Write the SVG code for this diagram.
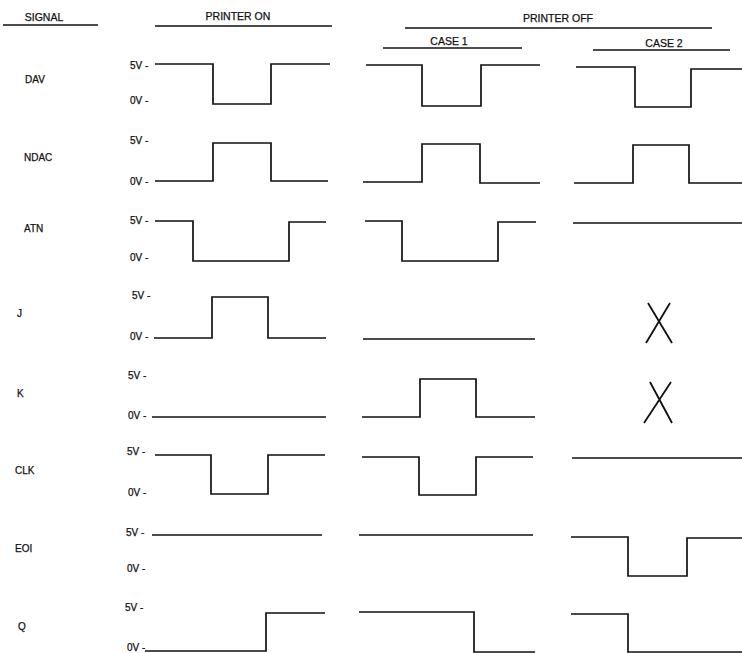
<svg xmlns="http://www.w3.org/2000/svg" width="742" height="653" viewBox="0 0 742 653">
<style>
text{font-family:"Liberation Sans",Arial,sans-serif;font-size:10px;fill:#111;stroke:#111;stroke-width:0.25}
.h{font-size:10.5px}
.w{fill:none;stroke:#111;stroke-width:1.7;stroke-linejoin:miter;stroke-linecap:butt}
.u{stroke:#111;stroke-width:1.5}
.x{fill:none;stroke:#111;stroke-width:1.8}
</style>
<rect width="742" height="653" fill="#fff"/>
<g id="header">
<text class="h" x="44" y="21" text-anchor="middle">SIGNAL</text>
<line class="u" x1="3" y1="25" x2="98" y2="25"/>
<text class="h" x="238" y="20" text-anchor="middle">PRINTER ON</text>
<line class="u" x1="155" y1="26" x2="332" y2="26"/>
<text class="h" x="558" y="22" text-anchor="middle">PRINTER OFF</text>
<line class="u" x1="405" y1="28" x2="712" y2="28"/>
<text class="h" x="449" y="45" text-anchor="middle">CASE 1</text>
<line class="u" x1="383" y1="48" x2="522" y2="48"/>
<text class="h" x="664" y="47" text-anchor="middle">CASE 2</text>
<line class="u" x1="593" y1="50" x2="730" y2="50"/>
</g>
<g id="row-DAV">
<text x="25" y="83">DAV</text>
<text x="130" y="69">5V -</text>
<text x="130" y="104">0V -</text>
<path class="w" d="M155 64H213V104H271V64H330"/>
<path class="w" d="M366 65H422V106H481V65H540"/>
<path class="w" d="M576 67H635V107H691V69H742"/>
</g>
<g id="row-NDAC">
<text x="24" y="161">NDAC</text>
<text x="130" y="144">5V -</text>
<text x="130" y="185">0V -</text>
<path class="w" d="M155 181H213V143H271V181H328"/>
<path class="w" d="M363 182H422V144H480V183H540"/>
<path class="w" d="M574 183H633V145H689V183H742"/>
</g>
<g id="row-ATN">
<text x="24" y="232">ATN</text>
<text x="130" y="224">5V -</text>
<text x="130" y="261">0V -</text>
<path class="w" d="M155 221H193V261H289V222H326"/>
<path class="w" d="M365 221H402V261H498V222H536"/>
<path class="w" d="M573 223H742"/>
</g>
<g id="row-J">
<text x="17" y="317">J</text>
<text x="132" y="299">5V -</text>
<text x="130" y="340">0V -</text>
<path class="w" d="M154 338H212V297H268V338H326"/>
<path class="w" d="M363 339H535"/>
<path class="x" d="M648 303L672 343M670 303L646 343"/>
</g>
<g id="row-K">
<text x="17" y="397">K</text>
<text x="128" y="379">5V -</text>
<text x="128" y="419">0V -</text>
<path class="w" d="M152 417H326"/>
<path class="w" d="M362 417H420V379H476V417H535"/>
<path class="x" d="M650 382L672 423M671 382L644 423"/>
</g>
<g id="row-CLK">
<text x="15" y="474">CLK</text>
<text x="127" y="455">5V -</text>
<text x="128" y="496">0V -</text>
<path class="w" d="M155 455H211V494H268V455H325"/>
<path class="w" d="M362 457H419V495H476V457H533"/>
<path class="w" d="M572 458H742"/>
</g>
<g id="row-EOI">
<text x="15" y="552">EOI</text>
<text x="126" y="536">5V -</text>
<text x="127" y="572">0V -</text>
<path class="w" d="M152 535H322"/>
<path class="w" d="M359 535H533"/>
<path class="w" d="M571 537H628V576H687V538H742"/>
</g>
<g id="row-Q">
<text x="18" y="630">Q</text>
<text x="125" y="611">5V -</text>
<text x="127" y="651">0V -</text>
<path class="w" d="M145 651H266V613H325"/>
<path class="w" d="M359 612H474V652H535"/>
<path class="w" d="M571 614H628V652H742"/>
</g>
<g id="connectors"></g>
</svg>
